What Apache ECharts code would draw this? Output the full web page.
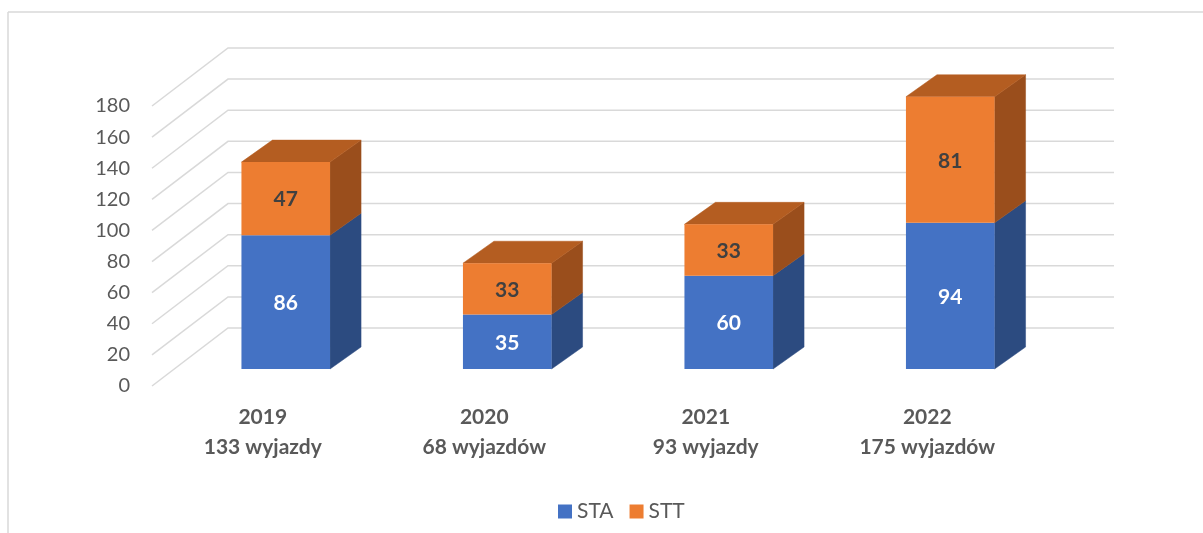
<!DOCTYPE html>
<html>
<head>
<meta charset="utf-8">
<script src="https://cdn.jsdelivr.net/npm/echarts@6/dist/echarts.min.js"></script>
<style>
html,body{margin:0;padding:0;background:#fff;}
#chart{width:1203px;height:533px;}
</style>
</head>
<body>
<div id="chart"></div>
<script>
// ---- data ----
const years = ['2019', '2020', '2021', '2022'];
const totalsText = ['133 wyjazdy', '68 wyjazdów', '93 wyjazdy', '175 wyjazdów'];
const staValues = [86, 35, 60, 94];
const sttValues = [47, 33, 33, 81];
const yTicks = [0, 20, 40, 60, 80, 100, 120, 140, 160, 180];
const seriesNames = ['STA', 'STT'];

// ---- style constants ----
const FONT = 'Lato, "Open Sans", sans-serif';
const GRID_COLOR = '#D9D9D9';
const WALL_DX = 76, WALL_DY = -58;     // depth of the whole box
const FRONT_DX = 23, FRONT_DY = -17;   // bar front plane offset
const BAR_DX = 31, BAR_DY = -22;       // bar depth
const BAR_FRAC = 0.4;
const COLORS = {
  STA: { front: '#4472C4', side: '#2C4B80', top: '#3A62A8' },
  STT: { front: '#ED7D31', side: '#9A4E1C', top: '#B45D21' }
};

const categories = years.map((y, i) => y + '\n' + totalsText[i]);
const staData = staValues.map((v, i) => [i, 0, v, v]);
const sttData = sttValues.map((v, i) => [i, staValues[i], staValues[i] + v, v]);
const gridData = yTicks.map(v => [0, v]);

function barRenderer(col, drawTop, labelColor) {
  return function (params, api) {
    const cat = api.value(0), base = api.value(1), top = api.value(2), val = api.value(3);
    const p0 = api.coord([cat, base]);
    const p1 = api.coord([cat, top]);
    const w = api.size([1, 0])[0] * BAR_FRAC;
    const cx = p0[0] + FRONT_DX;
    const yb = p0[1] + FRONT_DY;
    const yt = p1[1] + FRONT_DY;
    const l = cx - w / 2, r = cx + w / 2;
    const children = [];
    children.push({
      type: 'polygon',
      shape: { points: [[r, yb], [r + BAR_DX, yb + BAR_DY], [r + BAR_DX, yt + BAR_DY], [r, yt]] },
      style: { fill: col.side, stroke: col.side, lineWidth: 0.5 }
    });
    if (drawTop) {
      children.push({
        type: 'polygon',
        shape: { points: [[l, yt], [r, yt], [r + BAR_DX, yt + BAR_DY], [l + BAR_DX, yt + BAR_DY]] },
        style: { fill: col.top, stroke: col.top, lineWidth: 0.5 }
      });
    }
    children.push({
      type: 'rect',
      shape: { x: l, y: yt, width: w, height: yb - yt },
      style: { fill: col.front }
    });
    children.push({
      type: 'text',
      style: {
        text: String(val), x: cx, y: (yt + yb) / 2 + 1,
        align: 'center', verticalAlign: 'middle',
        fill: labelColor, font: 'bold 21px ' + FONT
      }
    });
    return { type: 'group', children: children };
  };
}

const chart = echarts.init(document.getElementById('chart'), null, { renderer: 'canvas' });
chart.setOption({
  backgroundColor: '#ffffff',
  animation: false,
  graphic: [
    { type: 'line', shape: { x1: 8, y1: 12, x2: 1203, y2: 12 }, style: { stroke: GRID_COLOR, lineWidth: 1.5 }, silent: true },
    { type: 'line', shape: { x1: 8, y1: 12, x2: 8, y2: 533 }, style: { stroke: GRID_COLOR, lineWidth: 1.5 }, silent: true }
  ],
  legend: {
    data: seriesNames,
    left: 553, top: 496,
    icon: 'rect', itemWidth: 14, itemHeight: 14, itemGap: 16,
    textStyle: { fontFamily: FONT, fontSize: 21, color: '#595959' }
  },
  grid: { left: 152, top: 106, width: 886, height: 280 },
  xAxis: {
    type: 'category', data: categories,
    axisLine: { show: false }, axisTick: { show: false },
    axisLabel: {
      margin: 16, interval: 0,
      fontFamily: FONT, fontSize: 21, fontWeight: 'bold', color: '#595959',
      lineHeight: 30
    }
  },
  yAxis: {
    type: 'value', min: 0, max: 180, interval: 20,
    axisLine: { show: false }, axisTick: { show: false }, splitLine: { show: false },
    axisLabel: { margin: 22, fontFamily: FONT, fontSize: 20, color: '#595959' }
  },
  series: [
    {
      type: 'custom', name: '_grid', z: 1, silent: true,
      data: gridData,
      renderItem: function (params, api) {
        const cs = params.coordSys;
        const y = api.coord([0, api.value(1)])[1];
        const L = cs.x, R = cs.x + cs.width;
        return {
          type: 'polyline',
          shape: { points: [[L, y], [L + WALL_DX, y + WALL_DY], [R + WALL_DX, y + WALL_DY]] },
          style: { stroke: GRID_COLOR, lineWidth: 1.5, fill: 'none' }
        };
      }
    },
    {
      type: 'custom', name: 'STA', z: 3,
      itemStyle: { color: COLORS.STA.front },
      data: staData,
      renderItem: barRenderer(COLORS.STA, false, '#ffffff')
    },
    {
      type: 'custom', name: 'STT', z: 4,
      itemStyle: { color: COLORS.STT.front },
      data: sttData,
      renderItem: barRenderer(COLORS.STT, true, '#404040')
    }
  ]
});
</script>
</body>
</html>
